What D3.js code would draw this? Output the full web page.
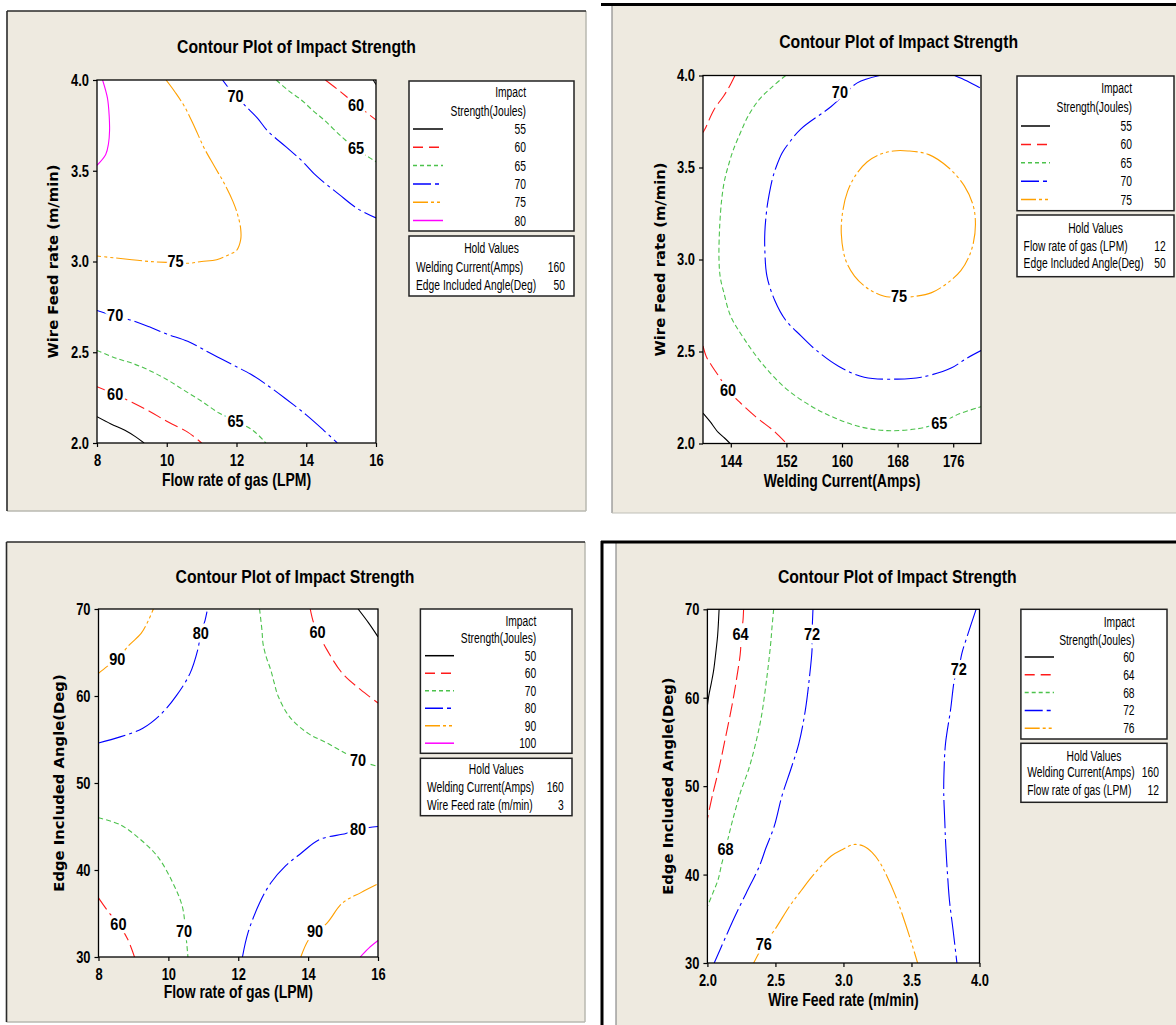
<!DOCTYPE html>
<html><head><meta charset="utf-8">
<script src="https://cdn.jsdelivr.net/npm/d3@7"></script>
<style>
html,body{margin:0;padding:0;background:#fff;}
svg{display:block;}
</style></head><body>
<svg id="chart" width="1176" height="1025"></svg>
<script>
// ================= DATA =================
const chartTitle = "Contour Plot of Impact Strength";
const legendHeader = ["Impact", "Strength(Joules)"];

// ---- Panel A: Flow rate of gas (x) vs Wire Feed rate (y) ----
const aXTicks = [8, 10, 12, 14, 16];
const aYTicks = [2.0, 2.5, 3.0, 3.5, 4.0];
const aLevels = [55, 60, 65, 70, 75, 80];
const aHoldNames = ["Welding Current(Amps)", "Edge Included Angle(Deg)"];
const aHoldValues = [160, 50];
const a55top = [[15.92,4.0],[16,3.975]];
const a55bot = [[8,2.145],[8.4,2.105],[8.8,2.07],[9.1,2.035],[9.35,2.0]];
const a60top = [[14.55,4.0],[14.95,3.94],[15.4,3.87],[15.8,3.81],[16,3.78]];
const a60bot = [[8,2.31],[8.5,2.27],[9.0,2.225],[9.5,2.175],[10,2.12],[10.6,2.06],[11.0,2.0]];
const a65top = [[13.14,4.0],[13.5,3.94],[13.86,3.89],[14.2,3.83],[14.51,3.78],[15.0,3.69],[15.43,3.62],[15.75,3.58],[16,3.55]];
const a65bot = [[8,2.51],[8.5,2.47],[9.0,2.44],[9.5,2.4],[10,2.35],[10.5,2.29],[11.0,2.23],[11.5,2.165],[12.0,2.12],[12.5,2.065],[12.84,2.0]];
const a70top = [[11.6,4.0],[11.8,3.95],[12.0,3.91],[12.24,3.86],[12.6,3.79],[12.89,3.72],[13.43,3.63],[13.9,3.55],[14.3,3.47],[14.94,3.37],[15.48,3.29],[16,3.24]];
const a70bot = [[8,2.73],[8.5,2.7],[9,2.675],[9.5,2.64],[10,2.6],[10.6,2.56],[11.2,2.5],[11.6,2.46],[12,2.42],[12.4,2.38],[12.8,2.33],[13.4,2.245],[14.0,2.155],[14.5,2.07],[14.89,2.0]];
const a75 = [[9.98,4.0],[10.25,3.93],[10.52,3.85],[10.8,3.74],[11.06,3.63],[11.35,3.53],[11.65,3.43],[11.9,3.33],[12.03,3.26],[12.12,3.18],[12.12,3.12],[12.0,3.06],[11.81,3.04],[11.43,3.01],[11.0,3.0],[10.6,2.99],[10.0,2.995],[9.5,3.0],[9.0,3.01],[8.5,3.02],[8.0,3.03]];
const a80 = [[8.16,4.0],[8.3,3.9],[8.35,3.8],[8.36,3.72],[8.33,3.65],[8.25,3.59],[8.0,3.53]];
const aLabels = [["70",11.97,3.91],["60",15.43,3.86],["65",15.43,3.625],["75",10.25,3.0],["70",8.52,2.705],["60",8.52,2.27],["65",11.97,2.12]];

// ---- Panel B: Welding Current (x) vs Wire Feed rate (y) ----
const bXTicks = [144, 152, 160, 168, 176];
const bYTicks = [2.0, 2.5, 3.0, 3.5, 4.0];
const bLevels = [55, 60, 65, 70, 75];
const bHoldNames = ["Flow rate of gas (LPM)", "Edge Included Angle(Deg)"];
const bHoldValues = [12, 50];
const b55 = [[140,2.165],[141,2.12],[142.2,2.06],[143.1,2.03],[143.9,2.0]];
const b60top = [[144.6,4.0],[143.8,3.94],[143.0,3.89],[141.6,3.815],[140.3,3.71],[140,3.69]];
const b60bot = [[140,2.53],[140.5,2.47],[141.3,2.42],[142.2,2.37],[143.6,2.29],[145.4,2.22],[147.6,2.145],[150.3,2.065],[152,2.0]];
const b65 = [[151.9,4.0],[150,3.94],[148.1,3.87],[146.5,3.78],[145.4,3.69],[144.4,3.6],[143.8,3.53],[143.1,3.43],[142.7,3.33],[142.4,3.18],[142.3,3.0],[142.5,2.9],[143.0,2.82],[144.0,2.69],[145.9,2.57],[148.6,2.43],[151.9,2.30],[155.7,2.2],[158.9,2.14],[162.7,2.09],[166.5,2.07],[170.8,2.08],[174,2.11],[176.8,2.16],[180,2.2]];
const b70main = [[165.4,4.0],[162.2,3.96],[160.3,3.895],[158.4,3.83],[154.1,3.71],[152.5,3.64],[151.4,3.58],[150.5,3.5],[150,3.44],[149.5,3.35],[149.2,3.28],[148.9,3.15],[148.9,3.05],[149.2,2.91],[150.3,2.78],[151.9,2.67],[154.1,2.585],[156.2,2.51],[159.5,2.42],[163.2,2.36],[168,2.35],[171.4,2.36],[175.7,2.41],[177.8,2.46],[180,2.505]];
const b70corner = [[176.2,4.0],[178,3.97],[180,3.93]];
const b75 = [[169.5,3.59],[172.5,3.57],[175.3,3.5],[177.6,3.4],[178.9,3.29],[179.2,3.19],[178.9,3.09],[178.2,3.01],[177.1,2.94],[175.1,2.87],[172.9,2.82],[170.6,2.8],[168.4,2.795],[166.1,2.8],[163.8,2.84],[161.8,2.91],[160.5,3.0],[159.9,3.14],[160.1,3.26],[160.8,3.37],[162,3.46],[163.6,3.53],[165.4,3.57],[167.4,3.59]];
const bLabels = [["70",159.7,3.91],["75",168.2,2.80],["60",143.6,2.29],["65",174,2.11]];

// ---- Panel C: Flow rate of gas (x) vs Edge Included Angle (y) ----
const cXTicks = [8, 10, 12, 14, 16];
const cYTicks = [30, 40, 50, 60, 70];
const cLevels = [50, 60, 70, 80, 90, 100];
const cHoldNames = ["Welding Current(Amps)", "Wire Feed rate (m/min)"];
const cHoldValues = [160, 3];
const c50 = [[15.43,70],[15.73,68.4],[16,66.8]];
const c60top = [[14.06,70],[14.15,68.5],[14.27,67.4],[14.54,65.3],[14.98,62.6],[15.51,60.7],[16,59.2]];
const c60bot = [[8,36.8],[8.3,35.1],[8.57,33.8],[8.84,32.0],[9.03,30]];
const c70top = [[12.61,70],[12.68,67.5],[12.71,66],[12.8,64.5],[12.93,63],[13.03,61.5],[13.14,60],[13.47,57.6],[14.0,55.7],[14.54,54.6],[15.08,53.4],[15.45,52.6],[16,51.9]];
const c70bot = [[8,46.0],[8.62,45.2],[9.16,43.65],[9.7,41.5],[10.13,38.5],[10.4,35.8],[10.49,33.0],[10.56,30]];
const c80top = [[8,54.6],[8.62,55.3],[9.27,56.3],[9.81,58.0],[10.24,60.1],[10.62,62.6],[10.84,65.3],[10.93,67.2],[11.05,68.7],[11.12,70]];
const c80bot = [[12.12,30],[12.28,32.8],[12.61,36.2],[12.93,38.5],[13.36,40.5],[13.79,41.9],[14.33,43.5],[15.08,44.2],[15.45,44.7],[16,45.0]];
const c90top = [[8,62.6],[8.25,63.4],[8.54,64.3],[8.89,65.9],[9.22,67.2],[9.43,68.7],[9.57,70]];
const c90bot = [[13.79,30],[14.0,31.9],[14.2,32.75],[14.54,33.9],[14.98,36.2],[15.51,37.4],[16,38.4]];
const c100 = [[15.49,30],[15.73,31.0],[16,31.9]];
const cLabels = [["90",8.54,64.3],["80",10.93,67.2],["60",14.27,67.4],["70",15.43,52.6],["80",15.43,44.7],["60",8.57,33.8],["70",10.45,33.0],["90",14.2,33.0]];

// ---- Panel D: Wire Feed rate (x) vs Edge Included Angle (y) ----
const dXTicks = [2.0, 2.5, 3.0, 3.5, 4.0];
const dYTicks = [30, 40, 50, 60, 70];
const dLevels = [60, 64, 68, 72, 76];
const dHoldNames = ["Welding Current(Amps)", "Flow rate of gas (LPM)"];
const dHoldValues = [160, 12];
const d60 = [[2.086,70],[2.075,67],[2.064,65.4],[2.045,63],[2.028,61.6],[2.01,60.2],[2.0,59.1]];
const d64 = [[2.266,70],[2.26,68.5],[2.244,67.2],[2.244,65.4],[2.216,62.3],[2.183,59.3],[2.133,55.5],[2.085,52],[2.036,48.9],[2.0,46.3]];
const d68 = [[2.487,70],[2.475,68],[2.465,66.1],[2.437,62.3],[2.396,57.8],[2.354,54.8],[2.305,52],[2.243,49.3],[2.188,46.3],[2.16,44.6],[2.133,42.85],[2.105,41.2],[2.078,39.4],[2.04,37.9],[2.0,36.4]];
const d72left = [[2.776,70],[2.772,68.5],[2.769,67.2],[2.769,65.4],[2.75,62.3],[2.72,58.6],[2.672,54.8],[2.615,52],[2.548,48.9],[2.492,45.5],[2.43,43],[2.382,40.95],[2.285,37.9],[2.2,35.2],[2.133,32.9],[2.05,30]];
const d72right = [[3.975,70],[3.917,67.3],[3.87,65],[3.848,63.3],[3.82,62.3],[3.787,58.6],[3.75,54.8],[3.74,52],[3.737,49.3],[3.745,46],[3.751,43.6],[3.765,40],[3.779,37.1],[3.806,33.7],[3.834,30]];
const d76 = [[2.34,30],[2.38,31.2],[2.415,32.2],[2.492,33.7],[2.603,36.4],[2.69,38.2],[2.77,39.8],[2.91,42.1],[3.0,42.9],[3.075,43.4],[3.15,43.2],[3.21,42.5],[3.27,41.3],[3.32,39.8],[3.38,37.7],[3.43,35.6],[3.49,32.8],[3.545,30]];
const dLabels = [["64",2.244,67.2],["72",2.769,67.2],["72",3.848,63.3],["68",2.133,42.85],["76",2.415,32.2]];

// ================= STYLE =================
const SANS = "'Liberation Sans',Arial,Helvetica,sans-serif";
const WIDE = "'DejaVu Sans',Verdana,sans-serif";
const BEIGE = "#eeeae0";
const STYLES = [
  {color:"#000000", dash:null, ldash:null},
  {color:"#ff1a1a", dash:"14,5", ldash:"10,6"},
  {color:"#4cc24c", dash:"5,3", ldash:"4,3"},
  {color:"#0000ff", dash:"28,4,3,4", ldash:"18,4,4,4"},
  {color:"#ffa000", dash:"26,3,3,3,3,3", ldash:"15,3,3,3,3,3"},
  {color:"#ff00ff", dash:null, ldash:null}
];
const T_TITLE = {size:19, sx:0.83, bold:true};
const T_TICK = {size:17, sx:0.76, bold:true};
const T_AXIS = {size:17.5, sx:0.8, bold:true};
const T_CLAB = {size:16.5, sx:0.88, bold:true};
const T_LEG = {size:14.5, sx:0.71, bold:false};

const svg = d3.select("#chart");
svg.append("rect").attr("width",1176).attr("height",1025).attr("fill","#fff");

function txt(parent, x, y, s, st, anchor, dy){
  return parent.append("text")
    .attr("transform", `translate(${x},${y}) scale(${st.sx},1)`)
    .attr("text-anchor", anchor || "start")
    .attr("dy", dy || null)
    .attr("font-family", SANS).attr("font-weight", st.bold ? "bold" : "normal")
    .attr("font-size", st.size).attr("fill", "#000").text(s);
}

// ---- panel frames ----
function frameA(x0,y0,x1,y1){
  svg.append("rect").attr("x",x0).attr("y",y0).attr("width",x1-x0).attr("height",y1-y0).attr("fill",BEIGE);
  svg.append("line").attr("x1",x0).attr("x2",x1).attr("y1",y1).attr("y2",y1).attr("stroke","#b8b8b0").attr("stroke-width",1.5);
  svg.append("line").attr("x1",x1).attr("x2",x1).attr("y1",y0).attr("y2",y1).attr("stroke","#b8b8b0").attr("stroke-width",1.5);
  svg.append("line").attr("x1",x0).attr("x2",x1).attr("y1",y0).attr("y2",y0).attr("stroke","#2a2a2a").attr("stroke-width",1.6);
  svg.append("line").attr("x1",x0).attr("x2",x0).attr("y1",y0).attr("y2",y1).attr("stroke","#2a2a2a").attr("stroke-width",1.6);
}
frameA(7,11,586,511);
frameA(6.5,542,585,1022);
svg.append("rect").attr("x",612).attr("y",6).attr("width",564).attr("height",507).attr("fill",BEIGE);
svg.append("line").attr("x1",612).attr("x2",612).attr("y1",6).attr("y2",513).attr("stroke","#8a8a8a").attr("stroke-width",1.2);
svg.append("line").attr("x1",612).attr("x2",1176).attr("y1",513).attr("y2",513).attr("stroke","#c0c0b8").attr("stroke-width",1.2);
svg.append("line").attr("x1",601).attr("x2",1176).attr("y1",4.5).attr("y2",4.5).attr("stroke","#000").attr("stroke-width",3);
svg.append("rect").attr("x",616).attr("y",543).attr("width",560).attr("height",482).attr("fill",BEIGE);
svg.append("line").attr("x1",616).attr("x2",616).attr("y1",543).attr("y2",1025).attr("stroke","#8a8a8a").attr("stroke-width",1.2);
svg.append("line").attr("x1",601).attr("x2",1176).attr("y1",542).attr("y2",542).attr("stroke","#000").attr("stroke-width",3);
svg.append("line").attr("x1",602).attr("x2",602).attr("y1",541).attr("y2",1025).attr("stroke","#000").attr("stroke-width",3);

function drawPanel(cfg){
  const g = svg.append("g");
  const P = cfg.plot;
  const x = d3.scaleLinear().domain(cfg.xDomain).range([P.l, P.r]);
  const y = d3.scaleLinear().domain(cfg.yDomain).range([P.b, P.t]);

  g.append("rect").attr("x",P.l).attr("y",P.t).attr("width",P.r-P.l).attr("height",P.b-P.t).attr("fill","#fff");
  const clipId = "clip" + cfg.id;
  svg.append("clipPath").attr("id",clipId).append("rect")
    .attr("x",P.l).attr("y",P.t).attr("width",P.r-P.l).attr("height",P.b-P.t);

  const line = d3.line().x(d=>x(d[0])).y(d=>y(d[1])).curve(d3.curveCatmullRom.alpha(0.5));
  const loop = d3.line().x(d=>x(d[0])).y(d=>y(d[1])).curve(d3.curveCatmullRomClosed.alpha(0.5));
  const cg = g.append("g").attr("clip-path",`url(#${clipId})`);
  cfg.contours.forEach(c=>{
    const st = STYLES[cfg.levels.indexOf(c.level)];
    cg.append("path").attr("d",(c.closed ? loop : line)(c.pts)).attr("fill","none")
      .attr("stroke",st.color).attr("stroke-width",1.1)
      .attr("stroke-dasharray",st.dash);
  });
  cfg.labels.forEach(d=>{
    txt(cg, x(d[1]), y(d[2]), d[0], T_CLAB, "middle", "0.36em")
      .attr("stroke","#fff").attr("stroke-width",7)
      .attr("paint-order","stroke").attr("stroke-linejoin","round");
  });

  g.append("rect").attr("x",P.l).attr("y",P.t).attr("width",P.r-P.l).attr("height",P.b-P.t)
    .attr("fill","none").attr("stroke","#000").attr("stroke-width",1.3);

  const xAxis = d3.axisBottom(x).tickValues(cfg.xTicks).tickSize(4).tickSizeOuter(0).tickPadding(7).tickFormat(cfg.xFmt);
  const yAxis = d3.axisLeft(y).tickValues(cfg.yTicks).tickSize(4).tickSizeOuter(0).tickPadding(4).tickFormat(cfg.yFmt);
  const gx = g.append("g").attr("transform",`translate(0,${P.b})`).call(xAxis);
  const gy = g.append("g").attr("transform",`translate(${P.l},0)`).call(yAxis);
  [gx,gy].forEach(a=>{
    a.select(".domain").remove();
    a.selectAll(".tick line").attr("stroke","#000").attr("stroke-width",1.2);
    a.selectAll(".tick text").attr("font-family",SANS).attr("font-weight","bold")
      .attr("font-size",T_TICK.size).attr("fill","#000")
      .attr("transform",`scale(${T_TICK.sx},1)`);
  });
  gy.selectAll(".tick text").attr("x", -8 / T_TICK.sx);

  txt(g, cfg.title[0], cfg.title[1], chartTitle, T_TITLE, "middle");
  txt(g, (P.l+P.r)/2, cfg.xLabelY, cfg.xLabel, T_AXIS, "middle");
  g.append("text").attr("transform",`translate(${cfg.yLabelX},${(P.t+P.b)/2}) rotate(-90)`)
    .attr("text-anchor","middle").attr("font-family",WIDE).attr("font-weight","bold")
    .attr("font-size",14.8).text(cfg.yLabel);

  const L = cfg.legend;
  g.append("rect").attr("x",L.l).attr("y",L.t).attr("width",L.r-L.l).attr("height",L.b-L.t)
    .attr("fill","#fff").attr("stroke","#222").attr("stroke-width",1.5);
  legendHeader.forEach((t,i)=> txt(g, L.valX, L.headY[i], t, T_LEG, "end", "0.35em"));
  cfg.levels.forEach((lv,i)=>{
    const yy = L.row0 + i*L.step;
    const st = STYLES[i];
    g.append("line").attr("x1",L.s0).attr("x2",L.s1).attr("y1",yy).attr("y2",yy)
      .attr("stroke",st.color).attr("stroke-width",1.5).attr("stroke-dasharray",st.ldash);
    txt(g, L.valX, yy, lv, T_LEG, "end", "0.35em");
  });

  const H = cfg.hold;
  g.append("rect").attr("x",L.l).attr("y",H.t).attr("width",L.r-L.l).attr("height",H.b-H.t)
    .attr("fill","#fff").attr("stroke","#222").attr("stroke-width",1.5);
  txt(g, (L.l+L.r)/2, H.titleY, "Hold Values", T_LEG, "middle", "0.35em");
  cfg.holdNames.forEach((n,i)=>{
    txt(g, H.nameX, H.rows[i], n, T_LEG, "start", "0.35em");
    txt(g, H.valX, H.rows[i], cfg.holdValues[i], T_LEG, "end", "0.35em");
  });
}

const f1 = d3.format(".1f");
const f0 = d3.format("d");

drawPanel({
  id:"A", plot:{l:97,r:376,t:80,b:443}, xDomain:[8,16], yDomain:[2,4],
  xTicks:aXTicks, yTicks:aYTicks, xFmt:f0, yFmt:f1, levels:aLevels,
  contours:[{level:55,pts:a55top},{level:55,pts:a55bot},{level:60,pts:a60top},{level:60,pts:a60bot},
            {level:65,pts:a65top},{level:65,pts:a65bot},{level:70,pts:a70top},{level:70,pts:a70bot},
            {level:75,pts:a75},{level:80,pts:a80}],
  labels:aLabels, title:[296.5,53], xLabel:"Flow rate of gas (LPM)", xLabelY:486,
  yLabel:"Wire Feed rate (m/min)", yLabelX:58,
  legend:{l:409,r:574,t:81,b:231,headY:[91.7,111],row0:129,step:18.3,valX:526,s0:413,s1:443},
  hold:{t:236,b:296,titleY:248,rows:[267,285],nameX:416,valX:565},
  holdNames:aHoldNames, holdValues:aHoldValues
});

drawPanel({
  id:"B", plot:{l:703,r:981,t:75.5,b:443.5}, xDomain:[140,180], yDomain:[2,4],
  xTicks:bXTicks, yTicks:bYTicks, xFmt:f0, yFmt:f1, levels:bLevels,
  contours:[{level:55,pts:b55},{level:60,pts:b60top},{level:60,pts:b60bot},{level:65,pts:b65},
            {level:70,pts:b70main},{level:70,pts:b70corner},{level:75,pts:b75,closed:true}],
  labels:bLabels, title:[898.6,48.3], xLabel:"Welding Current(Amps)", xLabelY:487,
  yLabel:"Wire Feed rate (m/min)", yLabelX:665,
  legend:{l:1017,r:1174,t:76,b:210.7,headY:[88,106.7],row0:126,step:18.4,valX:1132,s0:1021,s1:1050},
  hold:{t:215,b:276.7,titleY:227.7,rows:[246,263.3],nameX:1023.6,valX:1165.8},
  holdNames:bHoldNames, holdValues:bHoldValues
});

drawPanel({
  id:"C", plot:{l:98.5,r:378,t:609,b:957}, xDomain:[8,16], yDomain:[30,70],
  xTicks:cXTicks, yTicks:cYTicks, xFmt:f0, yFmt:f0, levels:cLevels,
  contours:[{level:50,pts:c50},{level:60,pts:c60top},{level:60,pts:c60bot},{level:70,pts:c70top},
            {level:70,pts:c70bot},{level:80,pts:c80top},{level:80,pts:c80bot},{level:90,pts:c90top},
            {level:90,pts:c90bot},{level:100,pts:c100}],
  labels:cLabels, title:[295,582.7], xLabel:"Flow rate of gas (LPM)", xLabelY:998,
  yLabel:"Edge Included Angle(Deg)", yLabelX:64,
  legend:{l:420.4,r:572,t:609,b:753.3,headY:[621,637.7],row0:655.7,step:17.5,valX:536.3,s0:425,s1:454},
  hold:{t:758.3,b:815.7,titleY:769.3,rows:[787.3,805],nameX:427,valX:563.8},
  holdNames:cHoldNames, holdValues:cHoldValues
});

drawPanel({
  id:"D", plot:{l:707.4,r:979.5,t:609.3,b:963}, xDomain:[2,4], yDomain:[30,70],
  xTicks:dXTicks, yTicks:dYTicks, xFmt:f1, yFmt:f0, levels:dLevels,
  contours:[{level:60,pts:d60},{level:64,pts:d64},{level:68,pts:d68},{level:72,pts:d72left},
            {level:72,pts:d72right},{level:76,pts:d76}],
  labels:dLabels, title:[897.3,583.3], xLabel:"Wire Feed rate (m/min)", xLabelY:1006,
  yLabel:"Edge Included Angle(Deg)", yLabelX:673,
  legend:{l:1020.9,r:1167,t:609.3,b:739,headY:[622,640],row0:657,step:17.8,valX:1134.6,s0:1024.7,s1:1054},
  hold:{t:743.3,b:802.3,titleY:755.7,rows:[771.7,790],nameX:1027.3,valX:1159},
  holdNames:dHoldNames, holdValues:dHoldValues
});
</script>
</body></html>
